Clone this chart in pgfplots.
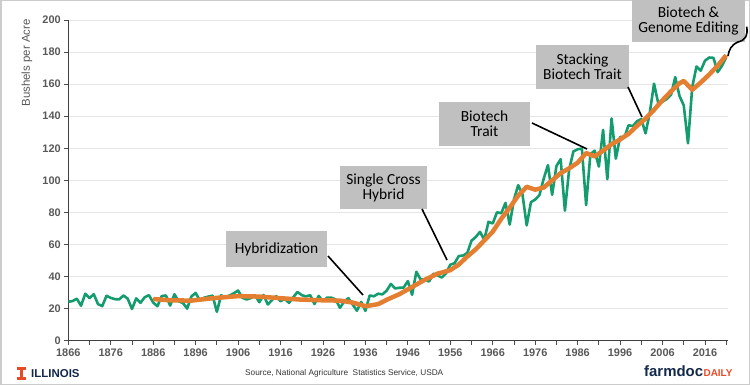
\documentclass[border=0pt]{standalone}
\usepackage{pgfplots}
\pgfplotsset{compat=1.18}
\usepackage{fontspec}
\setmainfont{Liberation Sans}
\newfontfamily\boxfont{Carlito}
\definecolor{cgreen}{RGB}{20,155,110}
\definecolor{corange}{RGB}{228,126,48}
\definecolor{boxgray}{RGB}{192,192,192}
\definecolor{ilorange}{RGB}{232,74,39}
\definecolor{ilnavy}{RGB}{19,41,75}
\definecolor{lblgray}{RGB}{89,89,89}
\begin{document}
\begin{tikzpicture}[x=1bp,y=1bp]
\path[use as bounding box] (0,0) rectangle (750,385);
\draw[line width=1.5bp, color=black!20] (0.75,0.75) rectangle (749.25,384.25);
\begin{axis}[
  at={(68.3bp,44.3bp)}, anchor=south west,
  scale only axis, width=660bp, height=320.7bp,
  xmin=1866, xmax=2021.5, ymin=0, ymax=200,
  axis x line*=bottom, axis y line*=left,
  axis line style={black!75, line width=0.9bp},
  xtick={1866,1876,...,2016},
  minor xtick={1871,1881,...,2021},
  ytick={0,20,...,200},
  ymajorgrids, grid style={black!10, line width=0.9bp},
  tick align=outside, major tick length=4bp, minor tick length=4bp,
  tick style={black!70, line width=0.8bp},
  /pgf/number format/.cd, 1000 sep={}, assume math mode=true,
  /pgfplots/.cd,
  tick label style={font=\fontsize{11}{12}\selectfont\bfseries, text=lblgray},
  xticklabel style={yshift=-1bp},
  clip=false,
]
\addplot[cgreen, line width=2.6bp, line join=round] coordinates {
(1866,24.3)(1867,24.7)(1868,26.2)(1869,21.8)(1870,29.3)(1871,26.5)(1872,29.0)(1873,22.8)(1874,21.6)(1875,28.0)
(1876,26.7)(1877,25.9)(1878,25.8)(1879,28.2)(1880,26.2)(1881,19.8)(1882,26.4)(1883,23.6)(1884,27.1)(1885,28.4)
(1886,23.8)(1887,21.5)(1888,27.8)(1889,28.2)(1890,21.9)(1891,29.0)(1892,24.5)(1893,23.6)(1894,20.0)(1895,27.6)
(1896,29.8)(1897,25.0)(1898,26.8)(1899,27.5)(1900,28.1)(1901,18.0)(1902,28.3)(1903,26.9)(1904,28.2)(1905,29.6)
(1906,31.3)(1907,26.8)(1908,25.7)(1909,26.6)(1910,28.3)(1911,24.0)(1912,28.5)(1913,22.6)(1914,25.4)(1915,27.8)
(1916,24.6)(1917,26.1)(1918,23.6)(1919,27.1)(1920,30.4)(1921,28.4)(1922,27.6)(1923,28.4)(1924,22.9)(1925,27.9)
(1926,24.7)(1927,26.9)(1928,26.8)(1929,25.7)(1930,20.5)(1931,24.5)(1932,26.5)(1933,22.6)(1934,18.7)(1935,24.2)
(1936,18.6)(1937,28.2)(1938,27.7)(1939,29.3)(1940,28.9)(1941,31.2)(1942,35.4)(1943,32.6)(1944,33.0)(1945,33.1)
(1946,37.2)(1947,28.6)(1948,43.0)(1949,38.2)(1950,38.2)(1951,36.9)(1952,41.8)(1953,40.7)(1954,39.4)(1955,42.0)
(1956,47.4)(1957,48.3)(1958,52.8)(1959,53.1)(1960,54.7)(1961,62.4)(1962,64.7)(1963,67.9)(1964,62.9)(1965,74.1)
(1966,73.1)(1967,80.1)(1968,79.5)(1969,85.9)(1970,72.4)(1971,88.1)(1972,97.0)(1973,91.3)(1974,71.9)(1975,86.4)
(1976,88.0)(1977,90.8)(1978,101.0)(1979,109.5)(1980,91.0)(1981,108.9)(1982,113.2)(1983,81.1)(1984,106.7)(1985,118.0)
(1986,119.4)(1987,119.8)(1988,84.6)(1989,116.3)(1990,118.5)(1991,108.6)(1992,131.5)(1993,100.7)(1994,138.6)(1995,113.5)
(1996,127.1)(1997,126.7)(1998,134.4)(1999,133.8)(2000,136.9)(2001,138.2)(2002,129.3)(2003,142.2)(2004,160.3)(2005,147.9)
(2006,149.1)(2007,150.7)(2008,153.3)(2009,164.4)(2010,152.6)(2011,146.8)(2012,123.1)(2013,158.1)(2014,171.0)(2015,168.4)
(2016,174.6)(2017,176.6)(2018,176.4)(2019,167.5)(2020,171.4)(2021,176.7)
};
\addplot[corange, line width=4.5bp, line join=round] coordinates {
(1886,26.0)(1890,25.2)(1895,25.0)(1900,26.5)(1906,27.8)(1911,27.5)(1916,26.5)(1921,25.6)(1926,25.2)(1930,25.0)
(1933,23.8)(1936,21.5)(1939,22.8)(1941,25.5)(1944,29.0)(1947,33.5)(1950,38.0)(1953,41.8)(1956,44.0)(1958,47.5)
(1960,52.5)(1962,57.0)(1964,62.5)(1966,68.0)(1968,76.0)(1970,83.0)(1972,90.5)(1974,96.0)(1976,94.2)(1978,95.5)
(1980,100.0)(1982,104.5)(1984,107.5)(1986,111.0)(1988,117.0)(1990,115.0)(1992,118.5)(1994,122.5)(1996,125.5)(1998,129.0)
(2000,134.0)(2002,138.5)(2004,144.0)(2006,150.0)(2008,155.5)(2010,160.5)(2011,162.0)(2013,156.5)(2015,161.0)(2017,166.0)
(2019,171.5)(2021,178.0)
};
\end{axis}
% y label
\node[rotate=90, font=\fontsize{11.5}{13}\selectfont, text=lblgray] at (27,322) {Bushels per Acre};
% annotation boxes
\tikzset{ann/.style={fill=boxgray, align=center, inner sep=0pt, font=\boxfont\fontsize{15.5}{15}\selectfont}}
\node[ann, minimum width=101bp, minimum height=36bp] at (276.5,136) {Hybridization};
\draw[black, line width=1.6bp] (328,129) -- (363,90);
\node[ann, minimum width=87bp, minimum height=43bp] at (383.5,197.5) {Single Cross\\Hybrid};
\draw[black, line width=1.6bp] (422,176) -- (447,125);
\node[ann, minimum width=91bp, minimum height=44bp] at (484.5,261) {Biotech\\Trait};
\draw[black, line width=1.6bp] (532,262) -- (587,236);
\node[ann, minimum width=93bp, minimum height=44bp] at (582.5,318) {Stacking\\Biotech Trait};
\draw[black, line width=1.6bp] (628,298) -- (642,268);
\node[ann, minimum width=113bp, minimum height=42bp] at (688.5,364) {Biotech \&\\Genome Editing};
\draw[black, line width=1.6bp] (746.7,358.3) .. controls (748,350) and (746,345) .. (738,343) .. controls (731,340) and (729,335) .. (728,329);
% footer
\fill[ilorange] (17,15.5) rectangle (25.5,18.5);
\fill[ilorange] (19.6,8.5) rectangle (22.9,15.5);
\fill[ilorange] (17,5.5) rectangle (25.5,8.5);
\node[anchor=base west, inner sep=0pt, font=\fontsize{11.5}{13}\selectfont\bfseries, text=ilnavy] at (31,7.8) {ILLINOIS};
\node[anchor=base west, inner sep=0pt, font=\fontsize{8.3}{10}\selectfont, text=black!80] at (245,9.3) {Source, National Agriculture\ \ Statistics Service, USDA};
\node[anchor=base west, inner sep=0pt, font=\fontsize{15}{16}\selectfont\bfseries, text=ilnavy] (fd) at (644,8.3) {farmdoc};
\node[anchor=base west, inner sep=0pt, font=\fontsize{10}{12}\selectfont\bfseries, text=ilorange] at (fd.base east) {DAILY};
\end{tikzpicture}
\end{document}
